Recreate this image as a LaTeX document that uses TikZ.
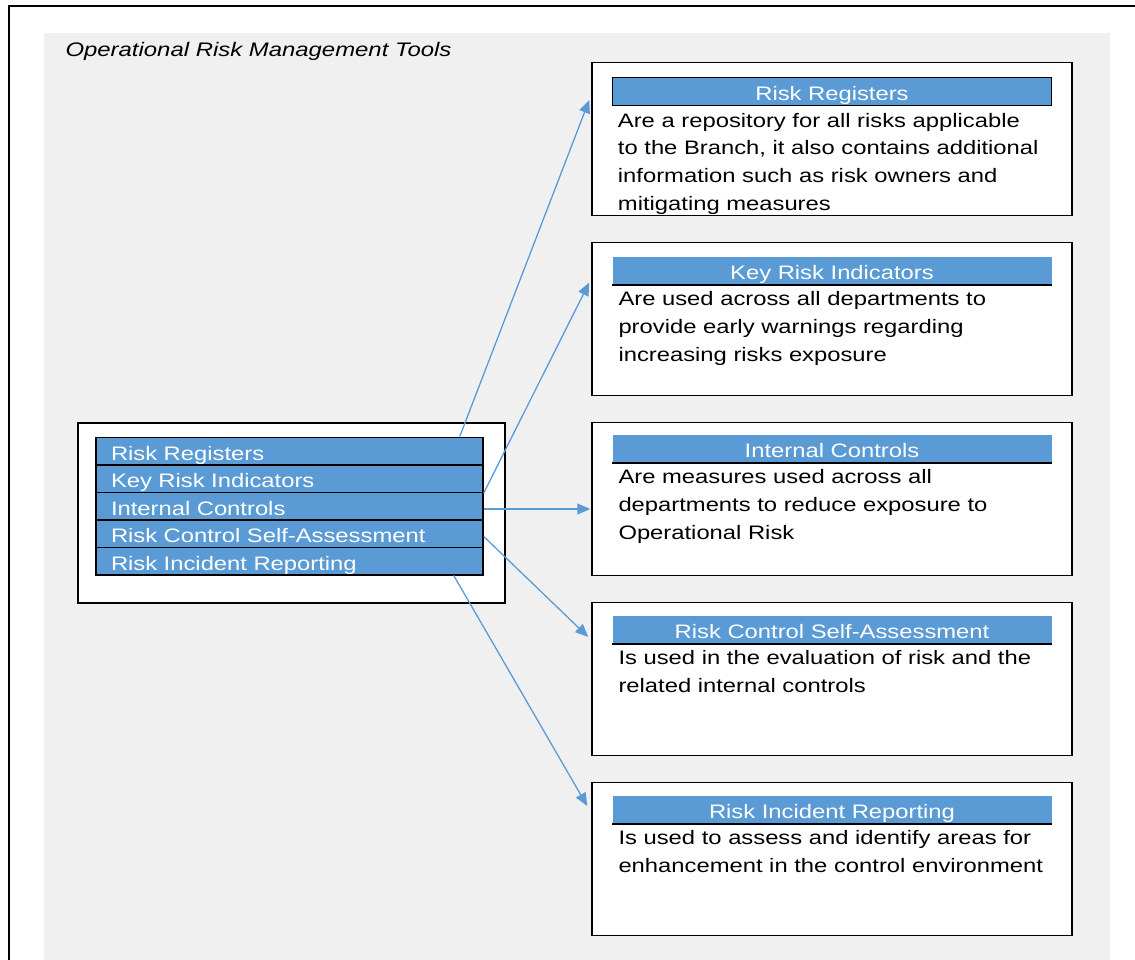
\documentclass[tikz,border=0pt]{standalone}
\usepackage{fontspec}
\setmainfont{Liberation Sans}[FakeStretch=1.22]
\usetikzlibrary{arrows.meta,positioning}
\definecolor{ormblue}{HTML}{5B9BD5}
\definecolor{ormgray}{HTML}{F0F0F0}

\begin{document}
\begin{tikzpicture}[x=1pt,y=1pt,node distance=25.5pt,
txt/.style={font=\fontsize{19.5}{27.7}\selectfont},
listrow/.style={txt,draw,line width=1.5pt,fill=ormblue,text=white,text width=357pt,inner xsep=15pt,inner ysep=0pt,minimum height=27.5pt,text height=18pt,text depth=0pt,align=left},
descbox/.style={draw,line width=1.5pt,fill=white,minimum width=480pt,minimum height=153pt},
deschead/.style={txt,fill=ormblue,text=white,minimum width=439pt,minimum height=28pt,inner ysep=0pt,text height=18pt,text depth=0pt},
descbody/.style={txt,inner sep=0pt,align=left},
arr/.style={draw=ormblue,line width=1.3pt,-{Triangle[length=13pt,width=11pt]}}]
\clip (0,0) rectangle (1135,-960);
% frame and grey panel
\fill[ormgray] (44,-33) rectangle (1110,-990);
\draw[line width=1.5pt] (9,-6) rectangle (1160,-990);
\node[txt,font=\fontsize{19.6}{24}\selectfont\itshape,anchor=base west] (title) at (62,-57) {Operational Risk Management Tools};
% list of tools
\node[draw,line width=1.5pt,fill=white,minimum width=427pt,minimum height=180pt] (tools) at (291.5,-513) {};
\node[listrow] (rr) at (289.5,-451) {Risk Registers};
\node[listrow,below=-1.5pt of rr] (kri) {Key Risk Indicators};
\node[listrow,below=-1.5pt of kri] (ic) {Internal Controls};
\node[listrow,below=-1.5pt of ic] (rcsa) {Risk Control Self-Assessment};
\node[listrow,below=-1.5pt of rcsa] (rir) {Risk Incident Reporting};
% description boxes
\node[descbox] (rrbox) at (832,-139) {};
\node[descbox,below=of rrbox] (kribox) {};
\node[descbox,below=of kribox] (icbox) {};
\node[descbox,below=of icbox] (rcsabox) {};
\node[descbox,below=of rcsabox] (rirbox) {};
\node[deschead,draw,line width=1.5pt,below=15pt of rrbox.north] (rrhead) {Risk Registers};
\node[deschead,below=15pt of kribox.north] (krihead) {Key Risk Indicators};
\node[deschead,below=13pt of icbox.north] (ichead) {Internal Controls};
\node[deschead,below=14pt of rcsabox.north] (rcsahead) {Risk Control Self-Assessment};
\node[deschead,below=14pt of rirbox.north] (rirhead) {Risk Incident Reporting};
\foreach \h in {krihead,ichead,rcsahead,rirhead}
  \draw[line width=1.5pt] (\h.south west) -- (\h.south east);
\node[descbody,below right=6.5pt and 6pt of rrhead.south west] (rrtext) {Are a repository for all risks applicable\\to the Branch, it also contains additional\\information such as risk owners and\\mitigating measures};
\node[descbody,below right=6.5pt and 6pt of krihead.south west] (kritext) {Are used across all departments to\\provide early warnings regarding\\increasing risks exposure};
\node[descbody,below right=6.5pt and 6pt of ichead.south west] (ictext) {Are measures used across all\\departments to reduce exposure to\\Operational Risk};
\node[descbody,below right=6.5pt and 6pt of rcsahead.south west] (rcsatext) {Is used in the evaluation of risk and the\\related internal controls};
\node[descbody,below right=6.5pt and 6pt of rirhead.south west] (rirtext) {Is used to assess and identify areas for\\enhancement in the control environment};
% arrows
\draw[arr] ([xshift=-24pt]rr.north east) -- ([xshift=-2pt,yshift=39pt]rrbox.west);
\draw[arr] (kri.south east) -- ([xshift=-2pt,yshift=36.5pt]kribox.west);
\draw[arr] ([yshift=-3pt]ic.east) -- ([xshift=-1pt,yshift=-10pt]icbox.west);
\draw[arr] ([yshift=-3pt]rcsa.east) -- ([xshift=-3pt,yshift=42pt]rcsabox.west);
\draw[arr] ([xshift=-30pt]rir.south east) -- ([xshift=-4pt,yshift=53pt]rirbox.west);
\end{tikzpicture}
\end{document}
